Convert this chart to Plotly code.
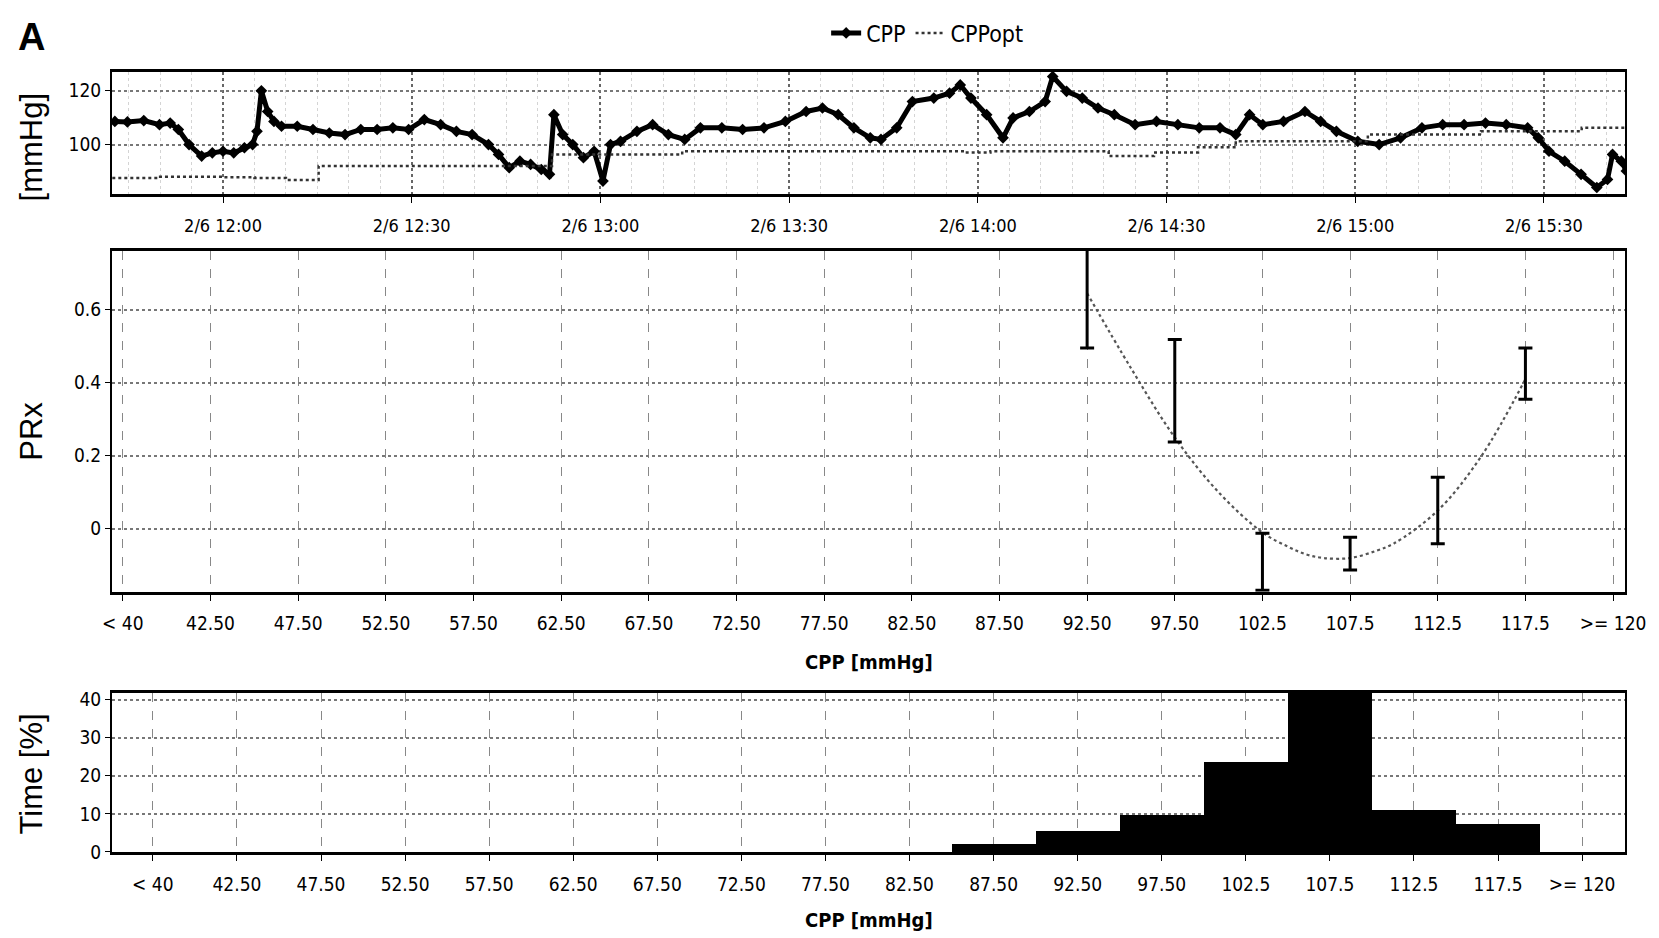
import plotly.graph_objects as go
import pandas as pd

# ---------------- data ----------------
# top panel: minutes relative to 2/6 12:00
cpp_minutes = [-17.2, -15.2, -12.6, -10.1, -8.4, -7.1, -5.4, -3.4, -1.7, 0, 1.7, 3.4, 4.7, 5.4, 6.1, 7.1,
               8.1, 9.3, 11.8, 14.3, 16.9, 19.4, 21.9, 24.5, 27, 29.5, 32, 34.6, 37.1, 39.6, 42.2, 43.8,
               45.5, 47.2, 48.9, 50.6, 51.9, 52.6, 54, 55.6, 57.3, 59, 60.4, 61.6, 63.2, 65.8, 68.3, 70.8,
               73.4, 75.9, 79.3, 82.6, 86, 89.4, 92.7, 95.3, 97.8, 100.3, 102.9, 104.6, 107.1, 109.6, 113,
               115.5, 117.2, 118.9, 121.4, 124, 125.6, 128.2, 130.7, 131.9, 134.1, 136.6, 139.1, 141.7, 145,
               148.4, 151.8, 155.2, 158.5, 161, 163.2, 165.3, 168.6, 172, 174.5, 177, 180.4, 183.8, 187.2,
               190.6, 193.9, 197.3, 200.7, 204, 207.4, 209.1, 210.8, 213.3, 215.9, 218.4, 220.1, 220.9,
               222.3, 223.1]
cpp_values = [108.6, 108.4, 108.9, 107.4, 108.0, 105.6, 100.0, 95.7, 96.9, 97.5, 96.9, 98.8, 100.0, 104.9,
              120.0, 112.3, 108.6, 106.8, 106.8, 105.6, 104.3, 103.7, 105.6, 105.6, 106.2, 105.6, 109.3,
              107.4, 104.9, 103.7, 100.0, 96.3, 91.4, 93.8, 92.6, 90.7, 88.9, 111.1, 103.7, 100.0, 95.1,
              97.5, 86.4, 100.0, 101.2, 104.9, 107.4, 103.7, 101.9, 106.2, 106.2, 105.6, 106.2, 108.6,
              112.3, 113.6, 111.1, 106.2, 102.5, 101.9, 106.2, 116.0, 117.3, 119.1, 122.2, 117.3, 111.1,
              102.5, 109.9, 112.3, 116.0, 125.3, 119.8, 117.3, 113.6, 111.1, 107.4, 108.6, 107.4, 106.2,
              106.2, 103.7, 111.1, 107.4, 108.6, 112.3, 108.6, 104.9, 101.2, 100.0, 102.5, 106.2, 107.4,
              107.4, 108.0, 107.4, 106.2, 102.5, 97.5, 93.8, 88.9, 84.0, 87.0, 96.3, 93.8, 90.1]
opt_minutes = [-17.6, -10, 0, 5, 10, 15.2, 52.3, 73, 118, 122, 135, 140.8, 148, 155, 161, 177, 182, 200,
               216, 223]
opt_values = [87.5, 88.0, 87.8, 87.5, 86.8, 92.0, 96.3, 97.5, 97.0, 97.5, 97.5, 95.7, 97.0, 99.0, 101.2,
              101.2, 103.7, 104.9, 106.2, 106.2]

# middle / bottom panels: CPP bins
bin_centers = [37.5, 42.5, 47.5, 52.5, 57.5, 62.5, 67.5, 72.5, 77.5, 82.5, 87.5, 92.5, 97.5, 102.5, 107.5,
               112.5, 117.5, 122.5]
bin_labels = ["< 40", "42.50", "47.50", "52.50", "57.50", "62.50", "67.50", "72.50", "77.50", "82.50",
              "87.50", "92.50", "97.50", "102.5", "107.5", "112.5", "117.5", ">= 120"]

prx_cpp = [92.5, 97.5, 102.5, 107.5, 112.5, 117.5]
prx_mean = [0.645, 0.378, -0.09, -0.068, 0.05, 0.425]
prx_err = [0.15, 0.14, 0.078, 0.045, 0.091, 0.07]

fit_cpp = [92.5, 95, 97.5, 100, 102.5, 104, 105, 106, 107.5, 109, 110, 112.5, 115, 117.5]
fit_prx = [0.645, 0.44, 0.25, 0.10, -0.01, -0.05, -0.07, -0.08, -0.08, -0.06, -0.04, 0.05, 0.20, 0.41]

time_pct = [0, 0, 0, 0, 0, 0, 0, 0, 0, 0, 2.0, 5.5, 9.8, 23.5, 42.0, 11.0, 7.4, 0]

# ---------------- figure ----------------
base = pd.Timestamp("2015-02-06 12:00")
cpp_t = [base + pd.Timedelta(minutes=m) for m in cpp_minutes]
opt_t = [base + pd.Timedelta(minutes=m) for m in opt_minutes]

NARROW = "Liberation Sans Narrow, DejaVu Sans Condensed, Arial Narrow, sans-serif"
SANS = "Liberation Sans, Arial, sans-serif"

fig = go.Figure()
fig.add_trace(go.Scatter(x=cpp_t, y=cpp_values, name="CPP", mode="lines+markers",
                         line=dict(color="black", width=5),
                         marker=dict(symbol="diamond", size=9, color="black"),
                         xaxis="x", yaxis="y"))
fig.add_trace(go.Scatter(x=opt_t, y=opt_values, name="CPPopt", mode="lines",
                         line=dict(color="#333", width=2.5, dash="dot", shape="hv"),
                         xaxis="x", yaxis="y"))
fig.add_trace(go.Scatter(x=fit_cpp, y=fit_prx, mode="lines", showlegend=False,
                         line=dict(color="#555", width=2.2, dash="dot", shape="spline"),
                         xaxis="x2", yaxis="y2"))
fig.add_trace(go.Scatter(x=prx_cpp, y=prx_mean, mode="markers", showlegend=False,
                         marker=dict(size=1, color="rgba(0,0,0,0)"),
                         error_y=dict(type="data", array=prx_err, color="black", thickness=3, width=7),
                         xaxis="x2", yaxis="y2"))
fig.add_trace(go.Bar(x=bin_centers, y=time_pct, width=5, marker=dict(color="black", line=dict(width=0)),
                     showlegend=False, xaxis="x3", yaxis="y3"))

tickfont = dict(family=NARROW, size=19, color="black")
common_x = dict(showline=True, linecolor="black", linewidth=3, mirror=True, ticks="outside",
                ticklen=6, tickcolor="black", tickfont=tickfont, zeroline=False, ticklabelstandoff=7)
common_y = dict(showline=True, linecolor="black", linewidth=2, mirror=True, ticks="outside",
                ticklen=5, tickcolor="black", tickfont=tickfont, zeroline=False,
                showgrid=True, gridcolor="#777", griddash="dot", gridwidth=1.5)

fig.update_layout(
    width=1659, height=938,
    margin=dict(l=112, r=34, t=67, b=86),
    plot_bgcolor="white", paper_bgcolor="white",
    showlegend=True,
    legend=dict(orientation="h", x=0.472, y=1.05, xanchor="left", yanchor="middle",
                font=dict(family=NARROW, size=23, color="black"), bgcolor="rgba(0,0,0,0)",
                itemwidth=30),
    xaxis=dict(common_x, type="date", anchor="y",
               range=["2015-02-06 11:42:21", "2015-02-06 15:42:53"],
               tick0="2015-02-06 12:00", dtick=30 * 60 * 1000, tickformat="%-m/%-d %H:%M",
               tickfont=dict(family=NARROW, size=18, color="black"),
               showgrid=True, gridcolor="#666", griddash="dot", gridwidth=1.5,
               minor=dict(dtick=5 * 60 * 1000, tick0="2015-02-06 12:00", showgrid=True,
                          gridcolor="#d4d4d4", gridwidth=1, ticks="")),
    yaxis=dict(common_y, domain=[0.8433, 1.0], anchor="x", range=[81.5, 127],
               tickvals=[100, 120]),
    xaxis2=dict(common_x, anchor="y2", range=[36.88, 123.18], tickvals=bin_centers,
                ticktext=bin_labels, showgrid=True, gridcolor="#888", griddash="dash", gridwidth=1.2),
    yaxis2=dict(common_y, domain=[0.3338, 0.7707], anchor="x2", range=[-0.172, 0.761],
                tickvals=[0, 0.2, 0.4, 0.6], ticktext=["0", "0.2", "0.4", "0.6"]),
    xaxis3=dict(common_x, anchor="y3", range=[35.07, 125.05], tickvals=bin_centers,
                ticktext=bin_labels, showgrid=True, gridcolor="#888", griddash="dash", gridwidth=1.2),
    yaxis3=dict(common_y, domain=[0.0, 0.2038], anchor="x3", range=[0, 41.7],
                tickvals=[0, 10, 20, 30, 40]),
    bargap=0,
)

ann = []
ann.append(dict(text="<b>A</b>", x=-0.0634, y=1.0446, xref="paper", yref="paper", showarrow=False,
                xanchor="left", yanchor="middle", font=dict(family=SANS, size=38, color="black")))
for txt, yy in [("[mmHg]", 0.9045), ("PRx", 0.540), ("Time [%]", 0.1006)]:
    ann.append(dict(text=txt, x=-0.0529, y=yy, xref="paper", yref="paper", showarrow=False,
                    textangle=-90, xanchor="center", yanchor="middle",
                    font=dict(family=SANS, size=31, color="black")))
for yy in [0.2433, -0.0866]:
    ann.append(dict(text="<b>CPP [mmHg]</b>", x=0.5, y=yy, xref="paper", yref="paper", showarrow=False,
                    xanchor="center", yanchor="middle", font=dict(family=NARROW, size=20, color="black")))
fig.update_layout(annotations=ann)

fig.write_html("out.html")
